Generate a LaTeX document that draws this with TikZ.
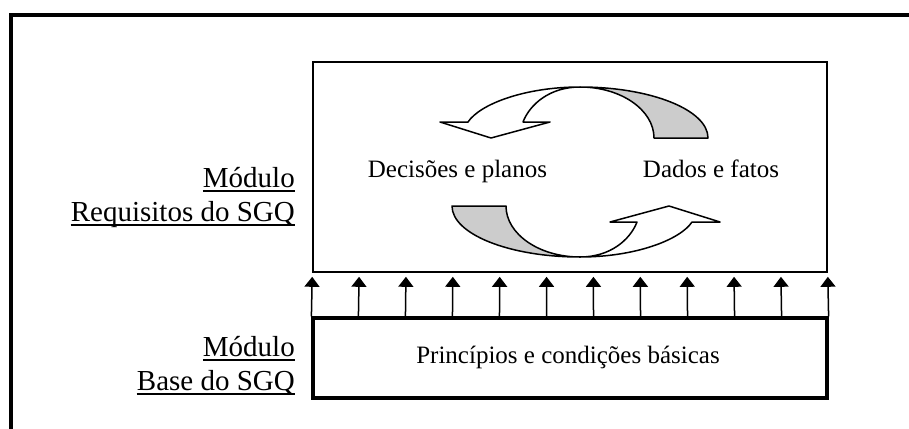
\documentclass[tikz,border=0pt]{standalone}
\usepackage{fontspec}
\setmainfont{Liberation Serif}
\usetikzlibrary{arrows.meta,calc}
\begin{document}
\begin{tikzpicture}[x=1pt,y=-1pt,
  frameline/.style={line width=4pt},
  modbox/.style={draw, line width=1.6pt, inner sep=0},
  basebox/.style={draw, line width=3.2pt, inner sep=0},
  bodytext/.style={font=\fontsize{25}{30}\selectfont, inner sep=0, anchor=base},
  labeltext/.style={font=\fontsize{29}{34}\selectfont, inner sep=0, anchor=base east},
  uline/.style={line width=1.8pt},
  flow/.style={line width=1.5pt, -{Triangle[width=15pt,length=10pt]}},
  bandline/.style={line width=1.5pt, line join=round},
  backband/.style={bandline, draw=black, fill=black!20},
  frontband/.style={bandline, draw=black, fill=white},
]
\useasboundingbox (0,0) rectangle (909,428);

% outer frame, only its top and left sides fall inside the page
\coordinate (frTL) at (10.5,15.3);
\coordinate (frTR) at (915,15.3);
\coordinate (frBL) at (10.5,435);
\draw[frameline] (frTR) -- (frTL) -- (frBL);

% the two modules
\node[modbox, minimum width=514pt, minimum height=210pt] (req) at (570,167) {};
\node[basebox, minimum width=514pt, minimum height=80pt] (base) at (570,358) {};
\node[bodytext] (princ) at (568,363) {Princípios e condições básicas};

% support arrows from the base to the requirements module
\foreach \i in {0,...,11} {
  \path ($(base.north west)!\i/11!(base.north east)$) coordinate (a\i);
  \path ($(req.south west)!\i/11!(req.south east)$) coordinate (b\i);
  \draw[flow] (a\i) -- ([yshift=-4pt]b\i);
}

% module labels, underlined
\node[labeltext] (m1) at (295,187) {Módulo};
\node[labeltext] (r1) at (295,221) {Requisitos do SGQ};
\node[labeltext] (m2) at (295,356) {Módulo};
\node[labeltext] (b2) at (295,390) {Base do SGQ};
\foreach \n in {m1,r1,m2,b2}
  \draw[uline] ([yshift=-4pt]\n.base west) -- ([yshift=-4pt]\n.base east);

% cycle texts
\node[bodytext] (dec) at (457.5,177) {Decisões e planos};
\node[bodytext] (dad) at (711,177) {Dados e fatos};

% upper curved arrow (points down-left)
\begin{scope}[shift={(580,172)}, yscale=-1]
  \draw[backband] (0,85) .. controls (71,85) and (128,62) .. (128,34)
    -- (74,34) .. controls (74,62) and (41,85) .. (0,85) -- cycle;
  \draw[frontband] (-140,50) -- (-89,34) -- (-30,50) -- (-57,50)
    .. controls (-50,68) and (-30,85) .. (0,85)
    .. controls (-55,85) and (-100,68) .. (-112,50) -- cycle;
\end{scope}

% lower curved arrow (points up-right)
\begin{scope}[shift={(580,172)}, rotate=180, yscale=-1]
  \draw[backband] (0,85) .. controls (71,85) and (128,62) .. (128,34)
    -- (74,34) .. controls (74,62) and (41,85) .. (0,85) -- cycle;
  \draw[frontband] (-140,50) -- (-89,34) -- (-30,50) -- (-57,50)
    .. controls (-50,68) and (-30,85) .. (0,85)
    .. controls (-55,85) and (-100,68) .. (-112,50) -- cycle;
\end{scope}
\end{tikzpicture}
\end{document}
